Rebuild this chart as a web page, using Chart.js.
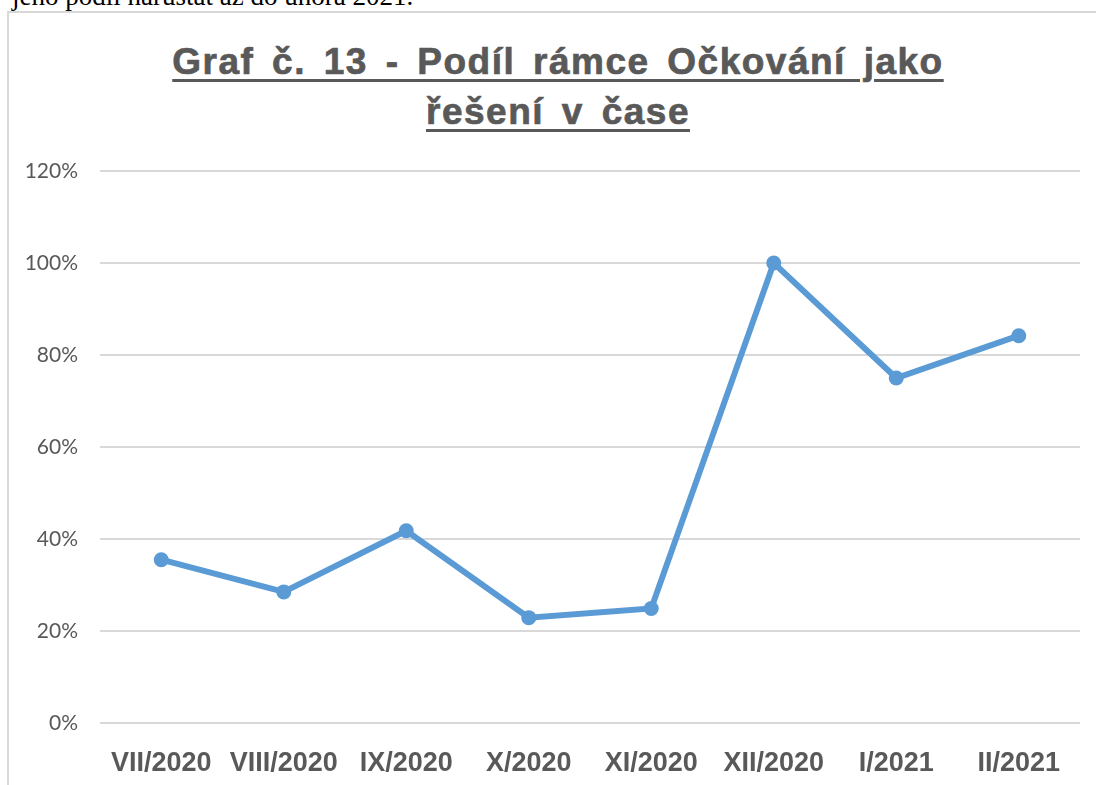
<!DOCTYPE html>
<html lang="cs">
<head>
<meta charset="utf-8">
<script src="https://cdn.jsdelivr.net/npm/chart.js@4"></script>
<style>
    html, body { margin: 0; padding: 0; background: #ffffff; }
    #page { position: relative; width: 1096px; height: 785px; overflow: hidden; }
    #stray {
        position: absolute; left: 12px; top: -19px;
        font-family: "Liberation Serif", "Times New Roman", serif; font-size: 27px; color: #000;
        white-space: nowrap;
    }
    #frame {
        position: absolute; left: 7px; top: 11px; width: 1200px; height: 900px;
        border-left: 2px solid #d9d9d9; border-top: 2px solid #d9d9d9;
    }
    #title {
        position: absolute; left: 0; width: 1116px; top: 37px; text-align: center;
        font-family: "Liberation Sans", Arial, sans-serif; font-weight: bold; font-size: 37px;
        line-height: 50px; color: #595959; text-decoration: underline;
        text-decoration-thickness: 3px; text-underline-offset: 5px;
        letter-spacing: 1.5px; word-spacing: 6px; -webkit-text-stroke: 0.7px #595959;
    }
    #chartBox { position: absolute; left: 0; top: 0; width: 1096px; height: 785px; }
</style>
</head>
<body>
<div id="page">
    <div id="stray">jeho podíl narůstat až do února 2021.</div>
    <div id="frame"></div>
    <div id="title">Graf č. 13 - Podíl rámce Očkování jako<br>řešení v čase</div>
    <div id="chartBox"><canvas id="vaccChart"></canvas></div>
</div>
<script>
// data
const months = ["VII/2020", "VIII/2020", "IX/2020", "X/2020", "XI/2020", "XII/2020", "I/2021", "II/2021"];
const shareVaccination = [35.5, 28.5, 41.8, 22.9, 24.9, 100, 75, 84.2];
const yTicks = [0, 20, 40, 60, 80, 100, 120];

document.addEventListener("DOMContentLoaded", function () {
    if (typeof Chart === "undefined") {
        console.error("Chart.js není načten");
        return;
    }

    const ctx = document.getElementById("vaccChart");
    new Chart(ctx.getContext("2d"), {
        type: "line",
        data: {
            labels: months,
            datasets: [
                {
                    data: shareVaccination,
                    borderColor: "#5b9bd5",
                    backgroundColor: "#5b9bd5",
                    borderWidth: 6,
                    pointRadius: 7.5,
                    pointBorderWidth: 0,
                    tension: 0,
                },
            ],
        },
        options: {
            responsive: true,
            maintainAspectRatio: false,
            animation: false,
            layout: { padding: { top: 171, right: 16, left: 0, bottom: 0 } },
            plugins: {
                legend: { display: false },
                tooltip: { enabled: false },
            },
            scales: {
                x: {
                    offset: true,
                    grid: { display: false, drawTicks: false },
                    border: { display: false },
                    ticks: {
                        color: "#595959",
                        padding: 24,
                        maxRotation: 0,
                        autoSkip: false,
                        font: { family: "'Liberation Sans', Arial, sans-serif", size: 27, weight: "bold" },
                    },
                    afterFit: function (scale) { scale.height = 62; },
                },
                y: {
                    min: 0,
                    max: 120,
                    afterBuildTicks: function (scale) {
                        scale.ticks = yTicks.map((v) => ({ value: v }));
                    },
                    grid: { color: "#d9d9d9", lineWidth: 2, drawTicks: false },
                    border: { display: false },
                    ticks: {
                        color: "#595959",
                        padding: 22,
                        font: { family: "Lato, 'Open Sans', sans-serif", size: 21 },
                        callback: function (v) { return v + "%"; },
                    },
                    afterFit: function (scale) { scale.width = 100; },
                },
            },
        },
    });
});
</script>
</body>
</html>
